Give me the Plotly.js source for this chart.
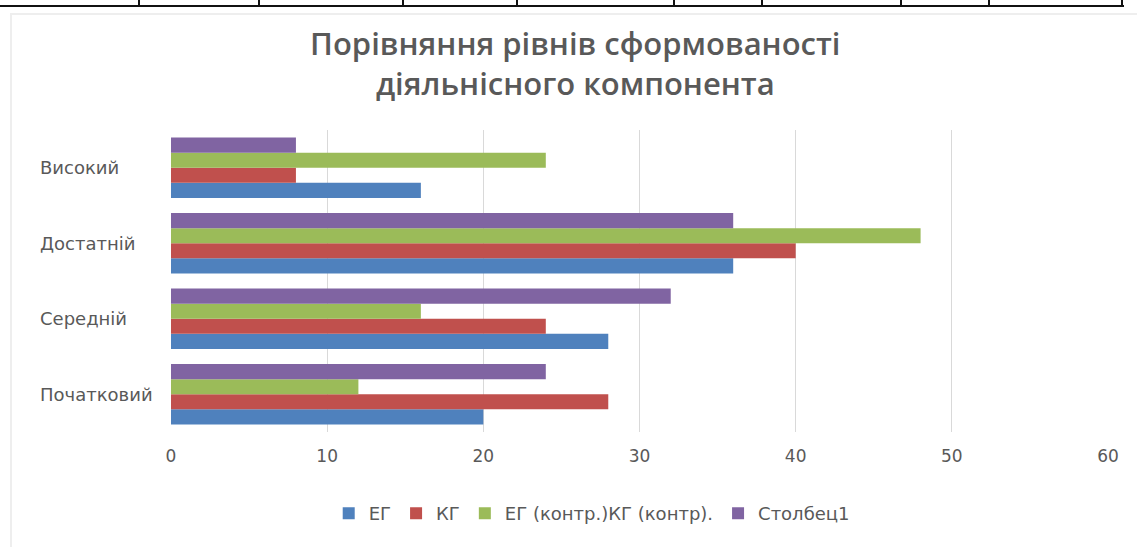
<!DOCTYPE html>
<html>
<head>
<meta charset="utf-8">
<script src="https://cdn.plot.ly/plotly-3.0.1.min.js"></script>
<style>
  html, body { margin: 0; padding: 0; background: #fff; }
  #wrap { position: relative; width: 1137px; height: 547px; overflow: hidden; }
  #chart { position: absolute; left: 0; top: 0; width: 1137px; height: 547px; }
  .frame { position: absolute; left: 10px; top: 13px; width: 1140px; height: 560px; border: 2px solid #eeeeee; box-sizing: border-box; pointer-events: none; }
  .hline { position: absolute; left: 0; top: 5px; width: 1124px; height: 2px; background: #111; }
  .vline { position: absolute; top: 0; width: 2px; height: 7px; background: #111; }
</style>
</head>
<body>
<div id="wrap">
  <div id="chart"></div>
  <div class="frame"></div>
  <div class="hline"></div>
</div>
<script>
// Data
const categories = ['Початковий', 'Середній', 'Достатній', 'Високий'];
const seriesNames = ['ЕГ', 'КГ', 'ЕГ (контр.)КГ (контр).', 'Столбец1'];
const egValues    = [20, 28, 36, 16];
const kgValues    = [28, 24, 40, 8];
const contrValues = [12, 16, 48, 24];
const col1Values  = [24, 32, 36, 8];
const xTicks = [0, 10, 20, 30, 40, 50, 60];

// decorative table edge from the cropped document above the chart
const tableLineX = [139, 259, 403, 517, 674, 762, 901, 989, 1122];
const wrap = document.getElementById('wrap');
tableLineX.forEach(x => {
  const d = document.createElement('div');
  d.className = 'vline';
  d.style.left = (x - 1) + 'px';
  wrap.appendChild(d);
});

const colors = ['#4F81BD', '#C0504D', '#9BBB59', '#8064A2'];
const allValues = [egValues, kgValues, contrValues, col1Values];

const traces = allValues.map((vals, i) => ({
  type: 'bar',
  orientation: 'h',
  name: seriesNames[i],
  y: categories,
  x: vals,
  marker: { color: colors[i] },
  hoverinfo: 'x+name'
}));

const textGrey = '#595959';
const smallFont = 'DejaVu Sans, Open Sans, sans-serif';

const annotations = categories.map(c => ({
  xref: 'paper', yref: 'y',
  x: -133 / 937, y: c,
  xanchor: 'left', yanchor: 'middle',
  text: c, showarrow: false,
  font: { family: smallFont, size: 18, color: textGrey }
}));

const layout = {
  width: 1137, height: 547,
  margin: { l: 171, r: 29, t: 130, b: 115 },
  paper_bgcolor: 'rgba(0,0,0,0)',
  plot_bgcolor: '#ffffff',
  barmode: 'group',
  bargap: 0.2,
  bargroupgap: 0,
  title: {
    text: 'Порівняння рівнів сформованості<br>діяльнісного компонента',
    xref: 'container', yref: 'container',
    x: 0.506, xanchor: 'center',
    y: 1 - 55 / 547, yanchor: 'top',
    font: { family: 'Open Sans, Noto Sans, sans-serif', size: 31, color: textGrey, weight: 600 }
  },
  xaxis: {
    range: [0, 60],
    tickvals: xTicks,
    ticktext: xTicks.map(String),
    showgrid: true,
    gridcolor: '#d9d9d9',
    gridwidth: 1,
    zeroline: false,
    showline: false,
    ticks: '',
    ticklabelstandoff: 12,
    tickfont: { family: smallFont, size: 17, color: textGrey },
    fixedrange: true
  },
  yaxis: {
    type: 'category',
    categoryorder: 'array',
    categoryarray: categories,
    showticklabels: false,
    showgrid: false,
    zeroline: false,
    showline: false,
    ticks: '',
    fixedrange: true
  },
  annotations: annotations,
  showlegend: true,
  legend: {
    orientation: 'h',
    x: 0.449, xanchor: 'center',
    y: -0.27, yanchor: 'middle',
    traceorder: 'normal',
    font: { family: smallFont, size: 18, color: textGrey },
    bgcolor: 'rgba(0,0,0,0)'
  }
};

Plotly.newPlot('chart', traces, layout, { displayModeBar: false, staticPlot: true });
</script>
</body>
</html>
